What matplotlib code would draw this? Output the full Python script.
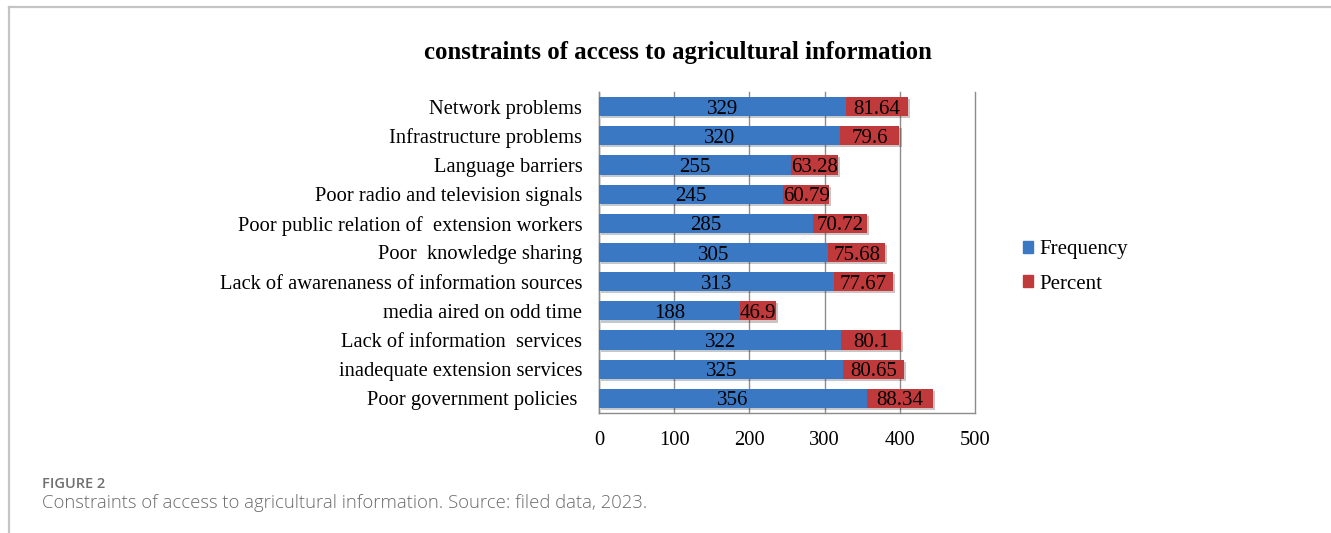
import matplotlib
matplotlib.use("Agg")
import matplotlib.pyplot as plt
from matplotlib.lines import Line2D
from matplotlib.patches import Rectangle
import matplotlib.patheffects as pe

categories = [
    "Network problems",
    "Infrastructure problems",
    "Language barriers",
    "Poor radio and television signals",
    "Poor public relation of  extension workers",
    "Poor  knowledge sharing",
    "Lack of awarenaness of information sources",
    "media aired on odd time",
    "Lack of information  services",
    "inadequate extension services",
    "Poor government policies ",
]
frequency = [329, 320, 255, 245, 285, 305, 313, 188, 322, 325, 356]
percent = [81.64, 79.6, 63.28, 60.79, 70.72, 75.68, 77.67, 46.9, 80.1, 80.65, 88.34]
freq_labels = ["329", "320", "255", "245", "285", "305", "313", "188", "322", "325", "356"]
pct_labels = ["81.64", "79.6", "63.28", "60.79", "70.72", "75.68", "77.67", "46.9", "80.1", "80.65", "88.34"]
xticks = [0, 100, 200, 300, 400, 500]

W, H = 1331, 533
fig = plt.figure(figsize=(W / 100, H / 100), dpi=100)
serif = "Liberation Serif"
blue = "#3a78c3"
red = "#c0393b"
fs = 14.75

ax = fig.add_axes([599 / W, 1 - 413 / H, (975 - 599) / W, (413 - 92) / H])
n = len(categories)
ypos = list(range(n))
shadow = [pe.SimplePatchShadow(offset=(1.5, -1.5), alpha=0.25), pe.Normal()]
ax.barh(ypos, frequency, height=0.66, color=blue, zorder=3, path_effects=shadow)
ax.barh(ypos, percent, left=frequency, height=0.66, color=red, zorder=3, path_effects=shadow)
for i in range(n):
    ax.text(frequency[i] / 2, i, freq_labels[i], ha="center", va="center_baseline",
            family=serif, fontsize=15, color="black", zorder=4)
    ax.text(frequency[i] + percent[i] / 2, i, pct_labels[i], ha="center", va="center_baseline",
            family=serif, fontsize=15, color="black", zorder=4)

ax.set_xlim(0, 500)
ax.set_ylim(n - 0.5, -0.5)
ax.set_xticks(xticks)
ax.set_xticklabels([str(t) for t in xticks], family=serif, fontsize=fs)
ax.set_yticks(ypos)
ax.set_yticklabels(categories, family=serif, fontsize=fs)
ax.tick_params(axis="both", length=0)
ax.tick_params(axis="x", pad=13)
ax.tick_params(axis="y", pad=12)
ax.xaxis.grid(True, color="#8c8c8c", linewidth=1.0, zorder=0)
for g in ax.get_xgridlines():
    g.set_clip_on(False)
ax.set_axisbelow(True)
for s in ["top", "right"]:
    ax.spines[s].set_visible(False)
for s in ["left", "bottom"]:
    ax.spines[s].set_color("#8c8c8c")
    ax.spines[s].set_linewidth(1.0)

fig.text(678 / W, 1 - 53 / H, "constraints of access to agricultural information",
         ha="center", va="center", family=serif, fontsize=17.8, fontweight="bold")

# legend
handles = [Rectangle((0, 0), 1, 1, color=blue), Rectangle((0, 0), 1, 1, color=red)]
fig.legend(handles, ["Frequency", "Percent"], loc="center left",
           bbox_to_anchor=(1004 / W, 1 - 267 / H), frameon=False,
           prop={"family": serif, "size": 15}, handlelength=0.5, handleheight=0.5,
           handletextpad=0.3, labelspacing=0.75)

# frame lines
fig.add_artist(Line2D([9 / W, 1], [1 - 7 / H, 1 - 7 / H], color="#c4c4c4", linewidth=1.6))
fig.add_artist(Line2D([9 / W, 9 / W], [0, 1 - 7 / H], color="#c4c4c4", linewidth=1.6))

fig.text(42 / W, 1 - 484 / H, "FIGURE 2", ha="left", va="center",
         family="Open Sans", fontsize=10.5, fontweight="semibold", color="#707070")
fig.text(42 / W, 1 - 503 / H,
         "Constraints of access to agricultural information. Source: filed data, 2023.",
         ha="left", va="center", family="Open Sans", fontsize=13.3, fontweight="light",
         color="#6b6b6b")

fig.savefig("out.png", dpi=100)
